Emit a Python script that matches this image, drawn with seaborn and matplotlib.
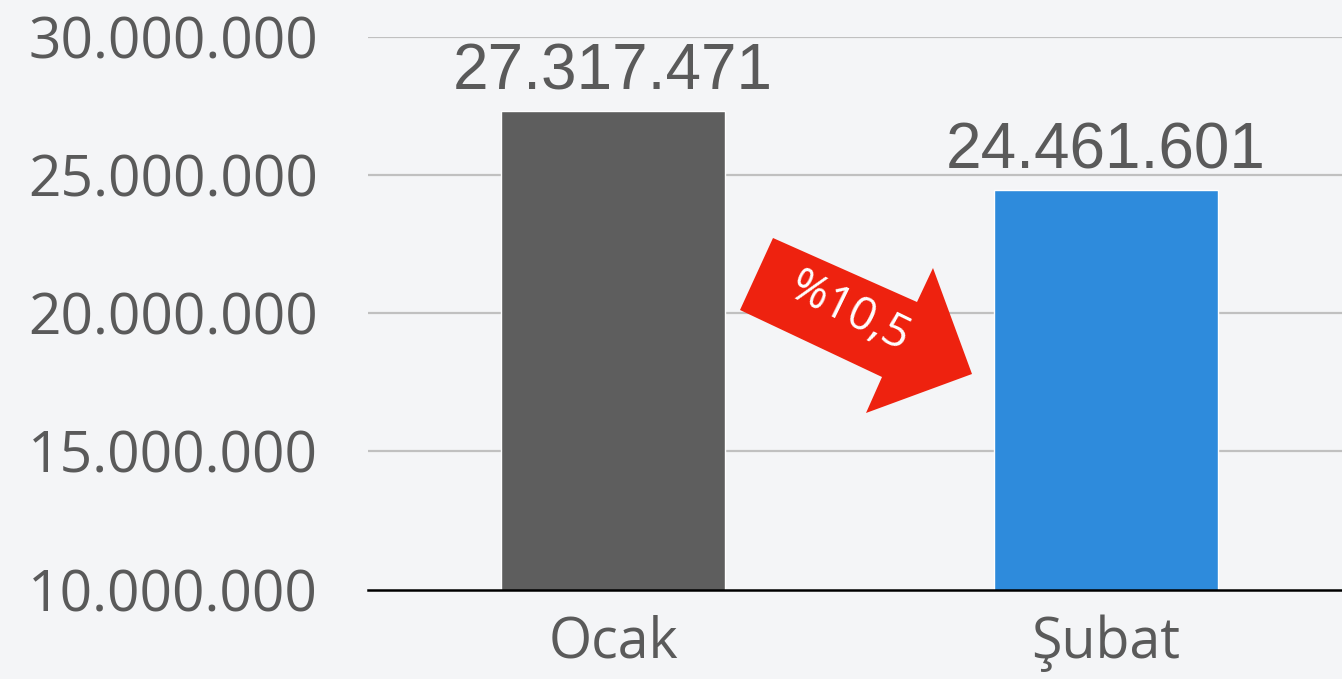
import matplotlib
matplotlib.use("Agg")
import matplotlib.pyplot as plt
import matplotlib.patches as mpatches
import seaborn as sns

months = ["Ocak", "Şubat"]
values = [27317471, 24461601]
bar_colors = ["#5e5e5e", "#2e8bdc"]
y_ticks = [10000000, 15000000, 20000000, 25000000, 30000000]
change_label = "%10,5"


def tr_format(v):
    return f"{int(v):,}".replace(",", ".")


sns.set_style("white")
plt.rcParams["font.family"] = ["Open Sans", "DejaVu Sans"]

W, H = 1342, 679
fig = plt.figure(figsize=(W / 100, H / 100), dpi=100, facecolor="#f4f5f7")
ax = fig.add_axes([368 / W, 1 - 589.5 / H, 1 - 368 / W, (589.5 - 37) / H])
ax.set_facecolor("none")

sns.barplot(x=months, y=values, hue=months, palette=bar_colors,
            width=0.454, legend=False, ax=ax, saturation=1)

ax.set_ylim(10000000, 30000000)
ax.set_xlim(-0.497, 1.479)
ax.set_yticks(y_ticks)
ax.set_yticklabels([tr_format(t) for t in y_ticks])

for y in y_ticks[1:]:
    ax.axhline(y, color="#c0c0c0", lw=1.6, zorder=0)

for s in ["top", "right", "left"]:
    ax.spines[s].set_visible(False)
ax.spines["bottom"].set_color("black")
ax.spines["bottom"].set_linewidth(1.8)
ax.spines["bottom"].set_zorder(5)

ax.tick_params(axis="y", length=0, pad=36, labelsize=41, labelcolor="#5a5a5a")
ax.tick_params(axis="x", length=0, pad=18, labelsize=40, labelcolor="#5a5a5a")
ax.set_xlabel("")
ax.set_ylabel("")

for cont in ax.containers:
    ax.bar_label(cont, labels=[tr_format(v) for v in cont.datavalues],
                 padding=6, fontsize=46, color="#5a5a5a",
                 family=["Liberation Sans", "DejaVu Sans"])

# red down arrow between bars (pixel coords, y measured from top)
arrow_px = [(773, 238), (917, 302), (933, 268), (972, 374),
            (866, 413), (882, 377), (740, 310)]
arrow_pts = [(x / W, 1 - y / H) for x, y in arrow_px]
fig.patches.append(mpatches.Polygon(arrow_pts, closed=True, transform=fig.transFigure,
                                    facecolor="#ee220f", edgecolor="none", zorder=6))
fig.text(849 / W, 1 - 313 / H, change_label, color="white", fontsize=33,
         rotation=-26, ha="center", va="center", rotation_mode="anchor", zorder=7)

fig.savefig("out.png", dpi=100, facecolor=fig.get_facecolor())
